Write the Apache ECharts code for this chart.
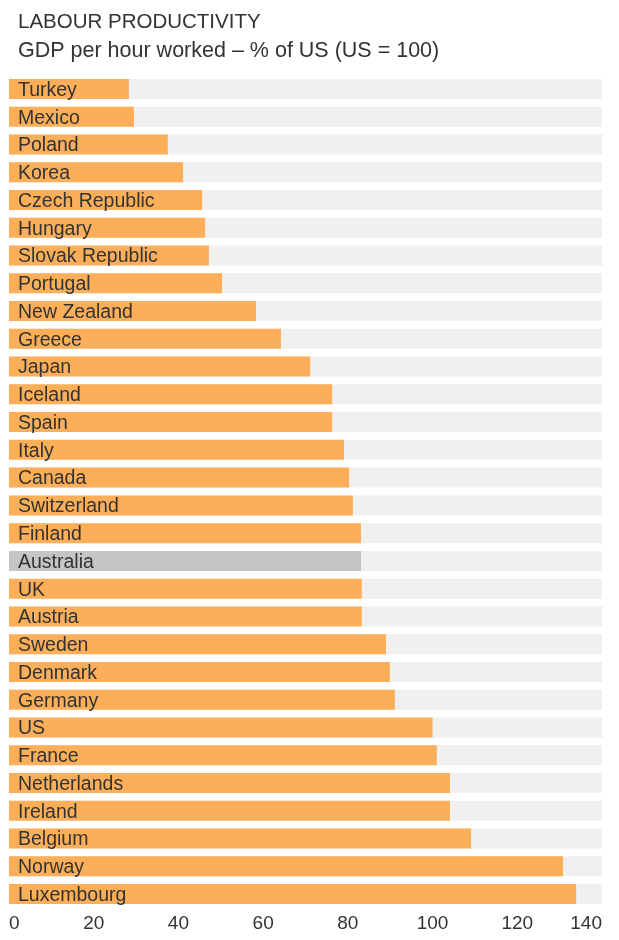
<!DOCTYPE html>
<html>
<head>
<meta charset="utf-8">
<script src="https://cdn.jsdelivr.net/npm/echarts@6/dist/echarts.min.js"></script>
<style>html,body{margin:0;padding:0;background:#fff;}#c{width:619px;height:940px;}</style>
</head>
<body>
<div id="c"></div>
<script>
const titleText = 'LABOUR PRODUCTIVITY';
const subtitleText = 'GDP per hour worked – % of US (US = 100)';
const countries = ['Turkey','Mexico','Poland','Korea','Czech Republic','Hungary','Slovak Republic','Portugal','New Zealand','Greece','Japan','Iceland','Spain','Italy','Canada','Switzerland','Finland','Australia','UK','Austria','Sweden','Denmark','Germany','US','France','Netherlands','Ireland','Belgium','Norway','Luxembourg'];
const values = [28.3,29.5,37.5,41.1,45.6,46.3,47.2,50.3,58.3,64.2,71.1,76.3,76.3,79.1,80.3,81.2,83.1,83.1,83.3,83.3,89.0,89.9,91.1,100,101.0,104.1,104.1,109.1,130.8,133.9];
const highlighted = ['Australia'];
const xTicks = [0,20,40,60,80,100,120,140];

const FONT = '"Liberation Sans", Arial, sans-serif';
const chart = echarts.init(document.getElementById('c'), null, {renderer:'canvas'});
chart.setOption({
  animation:false,
  title:[
    {text:titleText, left:13, top:7, textStyle:{fontFamily:FONT, fontSize:20.5, fontWeight:'normal', color:'#333'}},
    {text:subtitleText, left:13, top:35, textStyle:{fontFamily:FONT, fontSize:21.5, fontWeight:'normal', color:'#333'}}
  ],
  grid:{left:9, right:17, top:75, bottom:32, containLabel:false},
  xAxis:{type:'value', min:xTicks[0], max:xTicks[xTicks.length-1], interval:20,
    axisLine:{show:false}, axisTick:{show:false}, splitLine:{show:false},
    axisLabel:{fontFamily:FONT, fontSize:19, color:'#333', margin:6, alignMinLabel:'left', alignMaxLabel:'right'}},
  yAxis:{type:'category', data:countries, inverse:true, show:false},
  series:[{
    type:'bar', barCategoryGap:'28%',
    showBackground:true, backgroundStyle:{color:'#f0f0f0'},
    data: values.map((v,i)=>({value:v, itemStyle:{color: highlighted.includes(countries[i]) ? '#c4c5c7' : '#fcaf58'}})),
    label:{show:true, position:'insideLeft', distance:9, offset:[0,1.5], formatter:'{b}', fontFamily:FONT, fontSize:19.5, color:'#333'}
  }]
});
</script>
</body>
</html>
